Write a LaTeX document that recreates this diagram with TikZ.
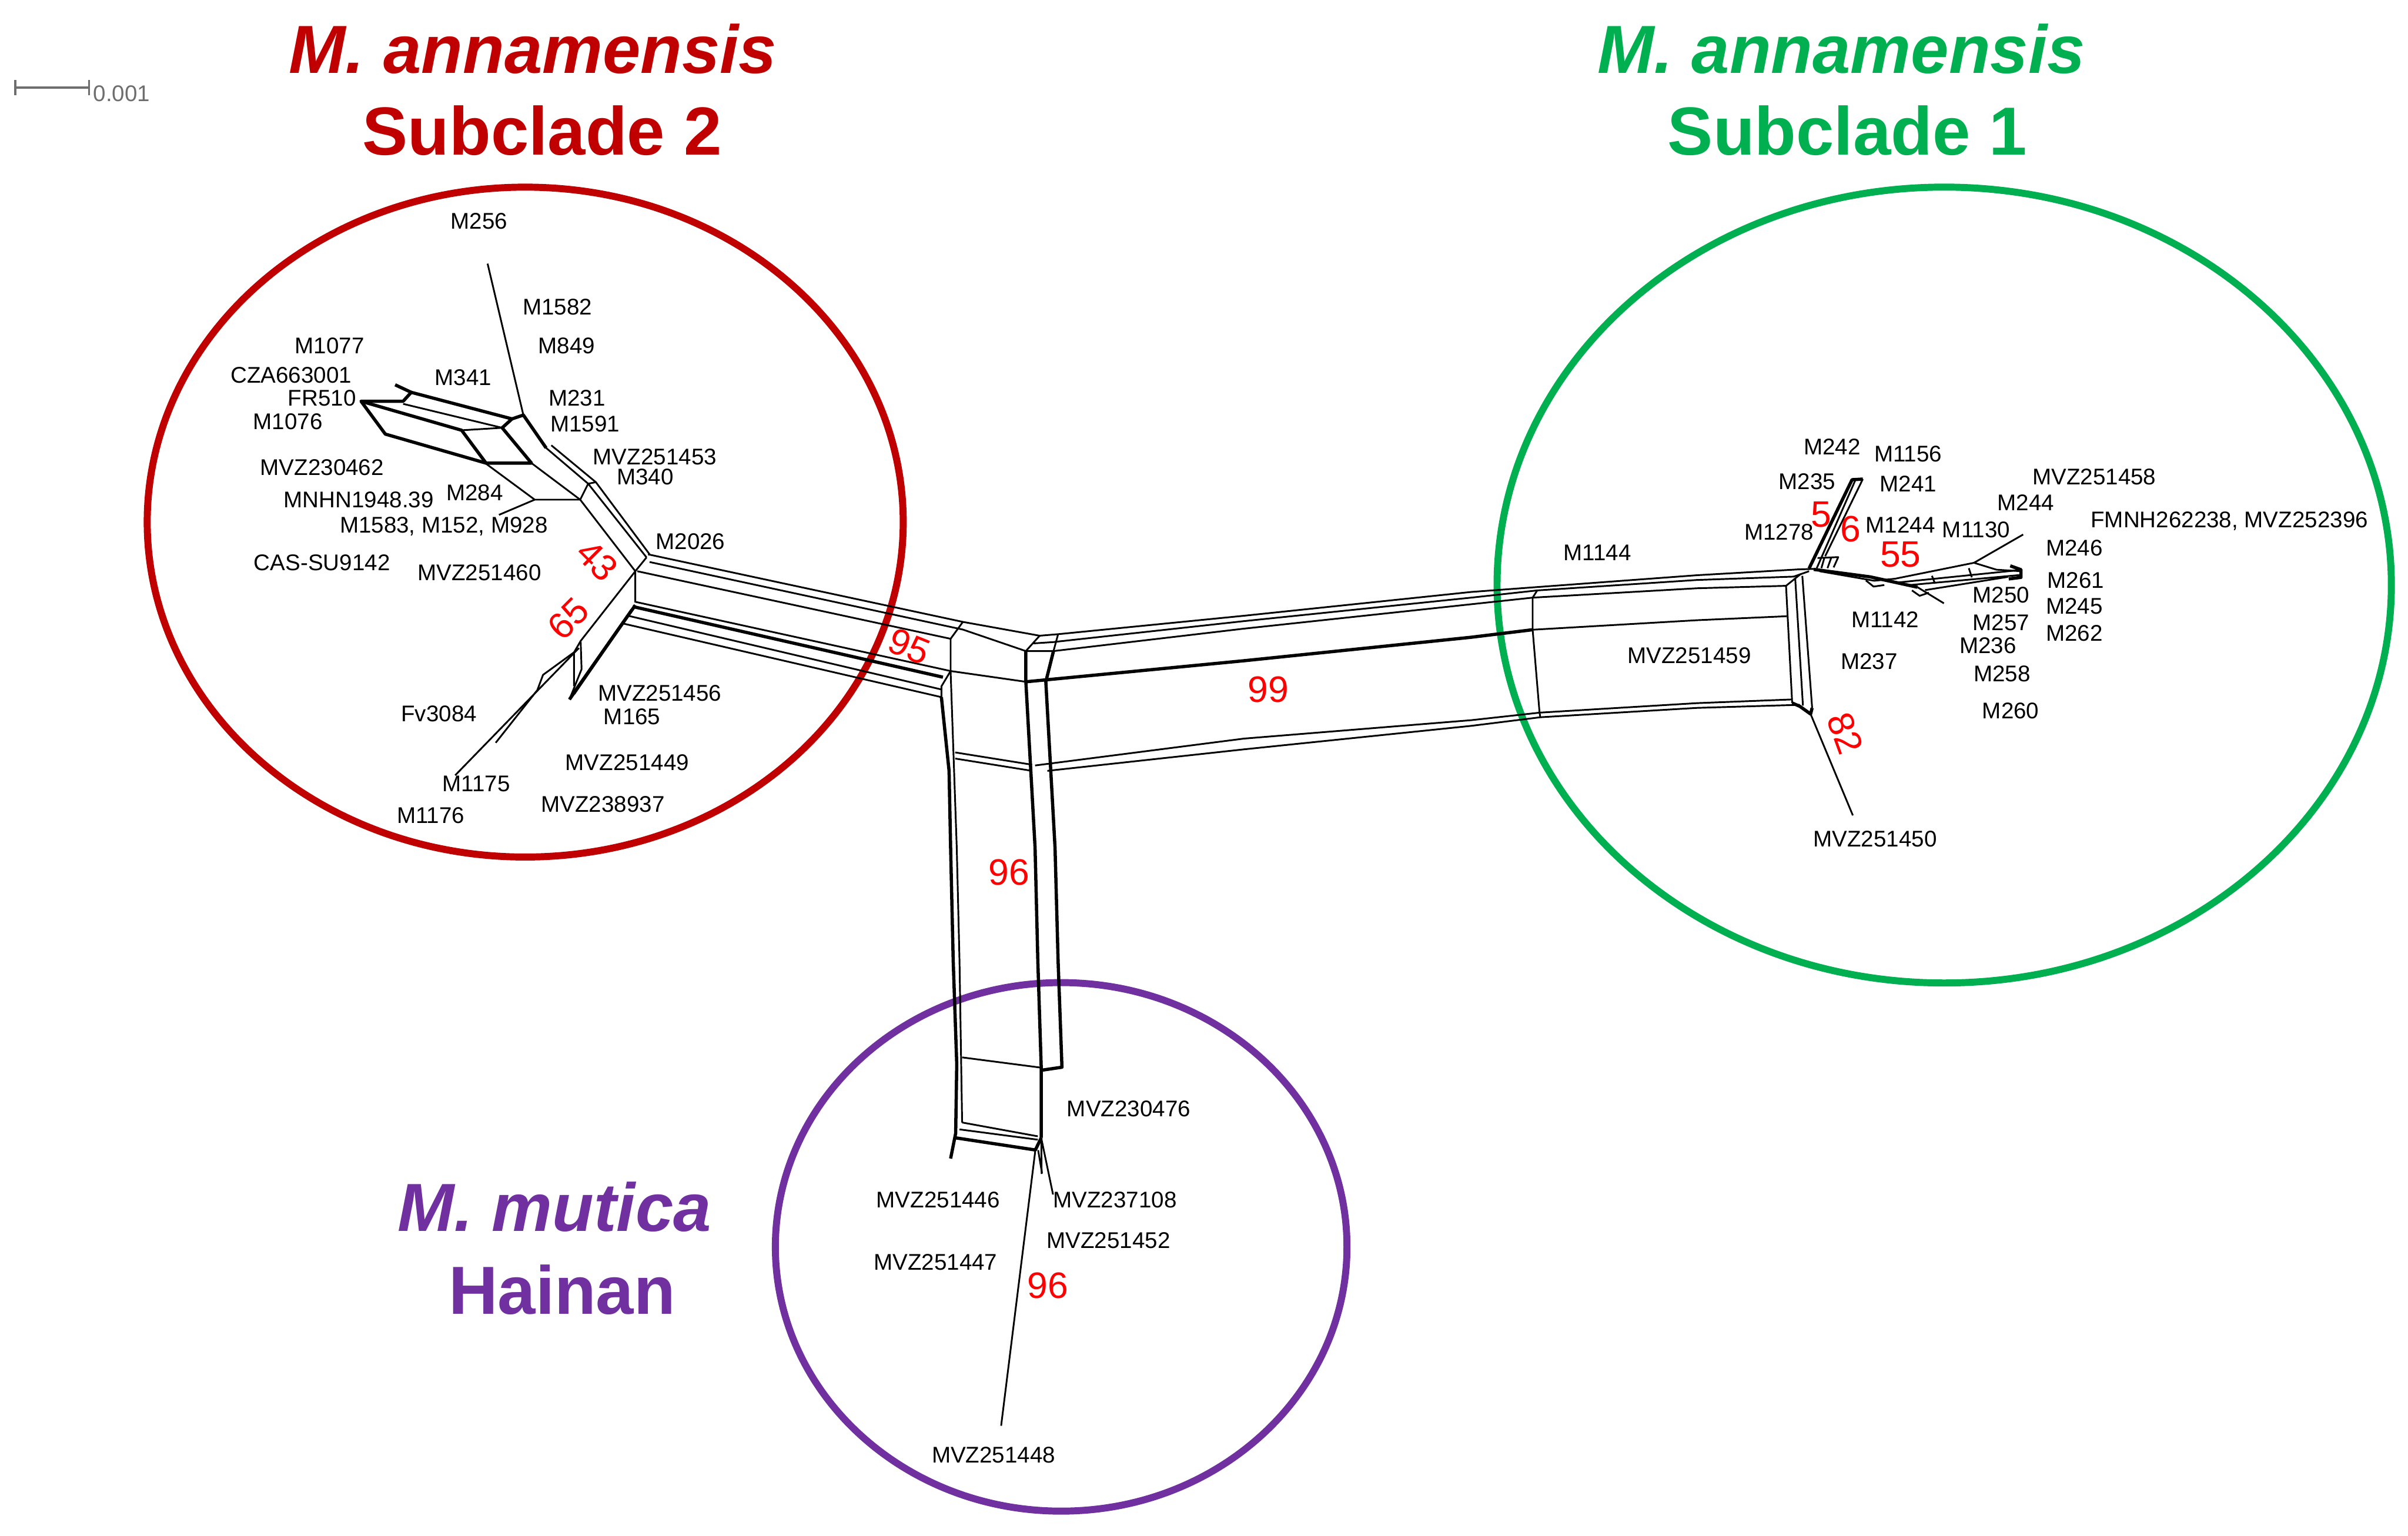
\documentclass[tikz,border=0pt]{standalone}
\usepackage{fontspec}
\setmainfont{Liberation Sans}
\definecolor{cladered}{HTML}{C00000}
\definecolor{cladegreen}{HTML}{00B050}
\definecolor{cladepurple}{HTML}{7030A0}
\definecolor{bargray}{HTML}{6E6E6E}
\tikzset{
  net/.style={black, line width=0.32pt, line join=round},
  netthick/.style={black, line width=0.6pt, line join=round},
  lbl/.style={inner sep=0pt, font=\fontsize{4.2}{5}\selectfont},
  boot/.style={inner sep=0pt, text=red, font=\fontsize{6.8}{8}\selectfont},
  ring/.style={line width=1.3pt},
  ttl/.style={inner sep=0pt, font=\fontsize{12.6}{14}\selectfont\bfseries},
}
\begin{document}
\begin{tikzpicture}[x=0.01cm, y=-0.01cm]
\useasboundingbox (0,0) rectangle (1568,1000);

\draw[ring, cladered] (342,340) ellipse [x radius=2.46cm, y radius=2.18cm];
\draw[ring, cladegreen] (1266,381) ellipse [x radius=2.91cm, y radius=2.59cm];
\draw[ring, cladepurple] (691,812) ellipse [x radius=1.86cm, y radius=1.72cm];

\node[ttl, text=cladered] (sub2sp) at (347,32) {\itshape M. annamensis};
\node[ttl, text=cladered] (sub2) at (353,85) {Subclade 2};
\node[ttl, text=cladegreen] (sub1sp) at (1199,32) {\itshape M. annamensis};
\node[ttl, text=cladegreen] (sub1) at (1203,85) {Subclade 1};
\node[ttl, text=cladepurple] (mutsp) at (361,786) {\itshape M. mutica};
\node[ttl, text=cladepurple] (hainan) at (366,840) {Hainan};

\draw[bargray, line width=0.42pt] (10,52) -- (10,62) (10,57) -- (58,57) (58,52) -- (58,62);
\node[lbl, text=bargray, anchor=west] (scale) at (60,61) {0.001};

% left band
\draw[net] (422,361) -- (627,405) -- (677,414) -- (689,413);
\draw[net] (423,366) -- (627,410) -- (668,424) -- (686,424) -- (689,413);
\draw[net] (677,414) -- (668,424) (673,419) -- (688,418);
\draw[net] (415,372) -- (619,416) -- (627,405);
\draw[net] (414,392) -- (619,437) -- (668,444);
\draw[netthick] (412,395) -- (614,441);
\draw[net] (409,401) -- (613,449);
\draw[net] (405.5,406) -- (613,454) -- (613,447) -- (619,437);

% bottom band
\draw[net] (619,416) -- (619,437) -- (623,552) -- (624.8,626) -- (626.5,731);
\draw[netthick] (613,454) -- (618,502) -- (619,552) -- (620.7,626) -- (623,693) -- (622.3,738) -- (619,754.5);
\draw[netthick] (668,424) -- (668,444) -- (674,552) -- (675.8,626) -- (678,695) -- (678,741);
\draw[netthick] (686,424) -- (681,444) -- (687,552) -- (689,626) -- (691.5,695) -- (678,697);
\draw[net] (622,490) -- (672,498) (622,494) -- (672,502);
\draw[net] (626.5,688.6) -- (678,695.3);
\draw[net] (626.5,731) -- (675.8,740) (624.8,735.5) -- (675.8,742.2);
\draw[netthick] (622.3,741) -- (674.2,748.9) -- (678,741);
\draw[net] (678,741) -- (685.7,777.9) (678,741) -- (678.3,764.5);
\draw[net] (674.2,748.9) -- (651.9,928.5) (676,749) -- (678.5,764);

% right band
\draw[net] (689,413) -- (810,401) -- (958,385.5) -- (1105,374.6) -- (1171,370.8) -- (1181,370.5);
\draw[net] (687,418) -- (810,404.5) -- (958,389.2) -- (1001,384.5) -- (1105,377.7) -- (1168,375.5) -- (1178,372);
\draw[net] (686,424) -- (810,409.4) -- (958,393.5) -- (998,389.2) -- (1105,383.1) -- (1163,381.5) -- (1172.6,373.8);
\draw[net] (1001,384.5) -- (998,389.2) -- (998,410.1) -- (1002.5,464.1) -- (1003,467.1);
\draw[netthick] (668,444) -- (810,430.3) -- (958,415) -- (998,410.1);
\draw[net] (998,410.1) -- (1105,403.9) -- (1163.5,401.3);
\draw[net] (674,498.5) -- (810,481) -- (958,469) -- (1002.5,464.1) -- (1105,457.9) -- (1167,455.5);
\draw[net] (682,502) -- (810,488) -- (958,472.7) -- (1003,467.1) -- (1105,461) -- (1172,459);
\draw[net] (1163,381.5) -- (1167,457.8) (1169,377) -- (1174,459.5) (1173.6,375) -- (1180,461);
\draw[netthick] (1167,457.8) -- (1172,460) -- (1179,465) -- (1180,461);
\draw[net] (1179,465) -- (1206.5,531);

% right cluster
\draw[netthick] (1178,370.2) -- (1206,312.4) -- (1213,312);
\draw[net] (1213,312) -- (1188.5,362.2) (1208,313) -- (1183,370);
\draw[net] (1183.5,363.4) -- (1197,362.8) -- (1194,369.5) (1188,363.2) -- (1186,370) (1192.5,363) -- (1190,370);
\draw[netthick] (1181,370.8) -- (1217.9,375.7) -- (1248.6,382.4);
\draw[net] (1248.6,382.4) -- (1265.8,392.9);
\draw[net] (1184.8,372) -- (1220.4,378.2) -- (1233.9,376.9) -- (1285.4,366.5) -- (1317.4,348.1);
\draw[net] (1285.4,366.5) -- (1300,371) -- (1316,372);
\draw[net] (1235.1,379.4) -- (1313.7,371.4) (1241.3,381.2) -- (1314.9,374.5) (1253.5,384.3) -- (1307.5,375.7);
\draw[netthick] (1309,368.5) -- (1316,371) -- (1316,376) -- (1308,377);
\draw[net] (1215,378) -- (1220,382) -- (1227,381) (1245,384.5) -- (1250,388) -- (1256,386);
\draw[net] (1258,375) -- (1260,380) (1282,370) -- (1284,376);

% left cluster
\draw[net] (317.5,171.7) -- (340.8,270.3);
\draw[netthick] (257.3,250.6) -- (267.8,255.5) -- (262.5,261.3) -- (235.1,261.3) -- (250.9,282.7) -- (316.5,301.6) -- (346.1,301.6) -- (327,278.6) -- (333.4,272.8) -- (340.8,270.3) -- (355.6,291.7);
\draw[netthick] (235.1,261.3) -- (300.6,280.2) -- (316.5,301.6);
\draw[net] (262.5,263) -- (327,278.6) (300.6,280.2) -- (327,278.6);
\draw[netthick] (267.8,255.5) -- (333.4,272.8);
\draw[net] (346.1,301.6) -- (377.8,325.4) -- (413.7,372);
\draw[net] (355.6,291.7) -- (383,315) -- (421,363);
\draw[net] (359,290) -- (388,314) -- (423,361) (383,315) -- (388,314) (377.8,325.4) -- (383,315);
\draw[net] (316.5,302) -- (348.2,325.4) -- (377.8,325.4) (348.2,325.4) -- (324.9,335.3);
\draw[net] (421,363) -- (413.7,372) -- (413.7,392.3);
\draw[net] (413.7,372) -- (378.1,417.4) -- (378.7,435.8) -- (370.8,455.5);
\draw[net] (378.1,417.4) -- (373.8,424.8) -- (373.8,446.9);
\draw[net] (373.8,424.8) -- (353.6,439.5) -- (349.9,449.4) -- (322.8,483.7);
\draw[net] (377,422) -- (296.4,504.9);
\draw[netthick] (413.7,394.1) -- (370.8,455.5);
\draw[net] (411,397) -- (372.5,452) (409,401) -- (374,452);

\node[lbl] (m256) at (312,144) {M256};
\node[lbl] (m1582) at (363,200) {M1582};
\node[lbl] (m849) at (369,225) {M849};
\node[lbl] (m1077) at (214.6,225) {M1077};
\node[lbl] (cza) at (189.6,244.5) {CZA663001};
\node[lbl] (m341) at (301.6,245.7) {M341};
\node[lbl] (fr510) at (209.7,259.3) {FR510};
\node[lbl] (m231) at (375.7,259.3) {M231};
\node[lbl] (m1076) at (187.5,274.5) {M1076};
\node[lbl] (m1591) at (381,276) {M1591};
\node[lbl] (mvz251453) at (426.4,297.5) {MVZ251453};
\node[lbl] (m340) at (420.1,310.6) {M340};
\node[lbl] (mvz230462) at (209.7,304.4) {MVZ230462};
\node[lbl] (m284) at (309.1,320.8) {M284};
\node[lbl] (mnhn) at (233.6,325.4) {MNHN1948.39};
\node[lbl] (m1583) at (289,342.7) {M1583, M152, M928};
\node[lbl] (m2026) at (449.6,352.6) {M2026};
\node[lbl] (cassu) at (209.7,366.5) {CAS-SU9142};
\node[lbl] (mvz251460) at (312.2,373.1) {MVZ251460};
\node[lbl] (mvz251456) at (429.6,451.3) {MVZ251456};
\node[lbl] (m165) at (411.6,466.8) {M165};
\node[lbl] (fv3084) at (285.8,464.7) {Fv3084};
\node[lbl] (mvz251449) at (408.4,496.4) {MVZ251449};
\node[lbl] (m1175) at (310.1,510.5) {M1175};
\node[lbl] (mvz238937) at (392.6,523.9) {MVZ238937};
\node[lbl] (m1176) at (280.5,530.9) {M1176};

\node[lbl] (m242) at (1193,291.1) {M242};
\node[lbl] (m1156) at (1242.5,295.7) {M1156};
\node[lbl] (m235) at (1176.8,313.5) {M235};
\node[lbl] (m241) at (1242.5,315.1) {M241};
\node[lbl] (m1278) at (1158.5,346.4) {M1278};
\node[lbl] (m1244) at (1237.5,341.8) {M1244};
\node[lbl] (m1130) at (1286.8,344.9) {M1130};
\node[lbl] (mvz251458) at (1363.7,310.5) {MVZ251458};
\node[lbl] (m244) at (1319.2,327.3) {M244};
\node[lbl] (fmnh) at (1451.7,339.5) {FMNH262238, MVZ252396};
\node[lbl] (m246) at (1350.8,356.8) {M246};
\node[lbl] (m261) at (1351.6,378.1) {M261};
\node[lbl] (m250) at (1303.1,387.6) {M250};
\node[lbl] (m245) at (1350.8,394.9) {M245};
\node[lbl] (m257) at (1303.1,405.6) {M257};
\node[lbl] (m262) at (1350.8,412.5) {M262};
\node[lbl] (m236) at (1294.4,420.4) {M236};
\node[lbl] (m1142) at (1227.6,403.6) {M1142};
\node[lbl] (m237) at (1217.2,430.6) {M237};
\node[lbl] (m258) at (1303.7,438.7) {M258};
\node[lbl] (m260) at (1309.3,462.9) {M260};
\node[lbl] (m1144) at (1040.2,360) {M1144};
\node[lbl] (mvz251459) at (1100,427) {MVZ251459};
\node[lbl] (mvz251450) at (1221,546.3) {MVZ251450};

\node[lbl] (mvz230476) at (735,722.1) {MVZ230476};
\node[lbl] (mvz251446) at (610.9,781.3) {MVZ251446};
\node[lbl] (mvz237108) at (726,781.3) {MVZ237108};
\node[lbl] (mvz251452) at (721.8,808) {MVZ251452};
\node[lbl] (mvz251447) at (609.2,822.1) {MVZ251447};
\node[lbl] (mvz251448) at (647,947.5) {MVZ251448};

\node[boot, rotate=-45] (b43) at (389,365) {43};
\node[boot, rotate=45] (b65) at (370,403) {65};
\node[boot, rotate=-22] (b95) at (592,421.1) {95};
\node[boot] (b99) at (826,449) {99};
\node[boot] (b96a) at (657,568) {96};
\node[boot] (b96b) at (682.4,837.1) {96};
\node[boot, rotate=-70] (b82) at (1201.5,477.6) {82};
\node[boot] (b5) at (1186,335.2) {5};
\node[boot] (b6) at (1205,344.4) {6};
\node[boot] (b55) at (1237.6,361) {55};
\end{tikzpicture}
\end{document}
